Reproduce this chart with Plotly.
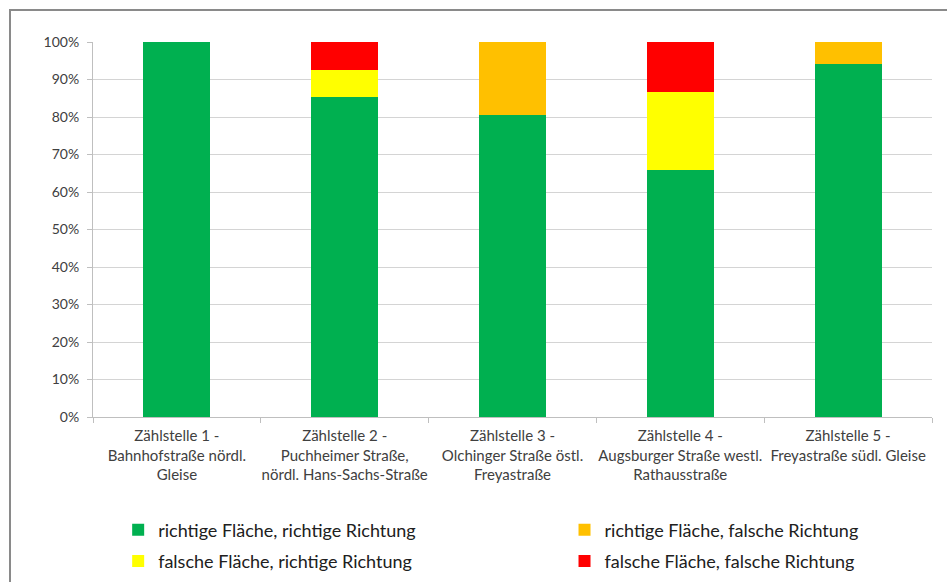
import plotly.graph_objects as go

# Zählstellen (Kategorien der x-Achse)
categories = [
    "Zählstelle 1 -<br>Bahnhofstraße nördl.<br>Gleise",
    "Zählstelle 2 -<br>Puchheimer Straße,<br>nördl. Hans-Sachs-Straße",
    "Zählstelle 3 -<br>Olchinger Straße östl.<br>Freyastraße",
    "Zählstelle 4 -<br>Augsburger Straße westl.<br>Rathausstraße",
    "Zählstelle 5 -<br>Freyastraße südl. Gleise",
]

# Anteile je Kategorie (in Prozent)
richtig_richtig = [100.0, 85.3, 80.5, 65.8, 94.2]
richtig_falsch = [0.0, 0.0, 19.5, 0.0, 5.8]
falsch_richtig = [0.0, 7.2, 0.0, 20.9, 0.0]
falsch_falsch = [0.0, 7.5, 0.0, 13.3, 0.0]

series = [
    ("richtige Fläche, richtige Richtung", richtig_richtig, "#00B050", "legend"),
    ("richtige Fläche, falsche Richtung", richtig_falsch, "#FFC000", "legend2"),
    ("falsche Fläche, richtige Richtung", falsch_richtig, "#FFFF00", "legend"),
    ("falsche Fläche, falsche Richtung", falsch_falsch, "#FF0000", "legend2"),
]

font_family = "Lato, 'Open Sans', sans-serif"
text_color = "#404040"

fig = go.Figure()
for i, (name, vals, color, leg) in enumerate(series):
    fig.add_trace(go.Bar(
        x=categories, y=vals, name=name,
        marker=dict(color=color, line=dict(width=0)),
        legend=leg, legendgroup=f"g{i}",
        width=0.4,
    ))

legend_style = dict(
    y=-0.252, xanchor="left", yanchor="top",
    font=dict(size=18, color="#202020"), tracegroupgap=5,
    itemwidth=30, bgcolor="rgba(0,0,0,0)",
)

fig.update_layout(
    width=947, height=582,
    margin=dict(l=93, r=15, t=42, b=165, autoexpand=False),
    barmode="stack",
    plot_bgcolor="white", paper_bgcolor="white",
    font=dict(family=font_family, size=14, color=text_color),
    showlegend=True,
    legend=dict(x=0.03, **legend_style),
    legend2=dict(x=0.562, **legend_style),
    shapes=[
        dict(type="rect", xref="paper", yref="paper",
             x0=(10 - 93) / 839, x1=(960 - 93) / 839,
             y0=(417 - 600) / 375, y1=(417 - 10) / 375,
             line=dict(color="#8a8a8a", width=2), fillcolor="rgba(0,0,0,0)",
             layer="below"),
    ],
)

fig.update_yaxes(
    range=[0, 100], dtick=10, ticksuffix="%",
    showgrid=True, gridcolor="#d4d4d4", gridwidth=1,
    showline=True, linecolor="#bfbfbf", linewidth=1,
    ticks="outside", ticklen=5, tickcolor="#bfbfbf",
    ticklabelstandoff=5,
    zeroline=False, tickfont=dict(size=14, color=text_color),
)
fig.update_xaxes(
    showline=True, linecolor="#bfbfbf", linewidth=1,
    ticks="outside", ticklen=5, tickcolor="#bfbfbf",
    tickson="boundaries", tickangle=0, ticklabelstandoff=5,
    tickfont=dict(size=15, color=text_color),
)

fig.write_html("out.html")
